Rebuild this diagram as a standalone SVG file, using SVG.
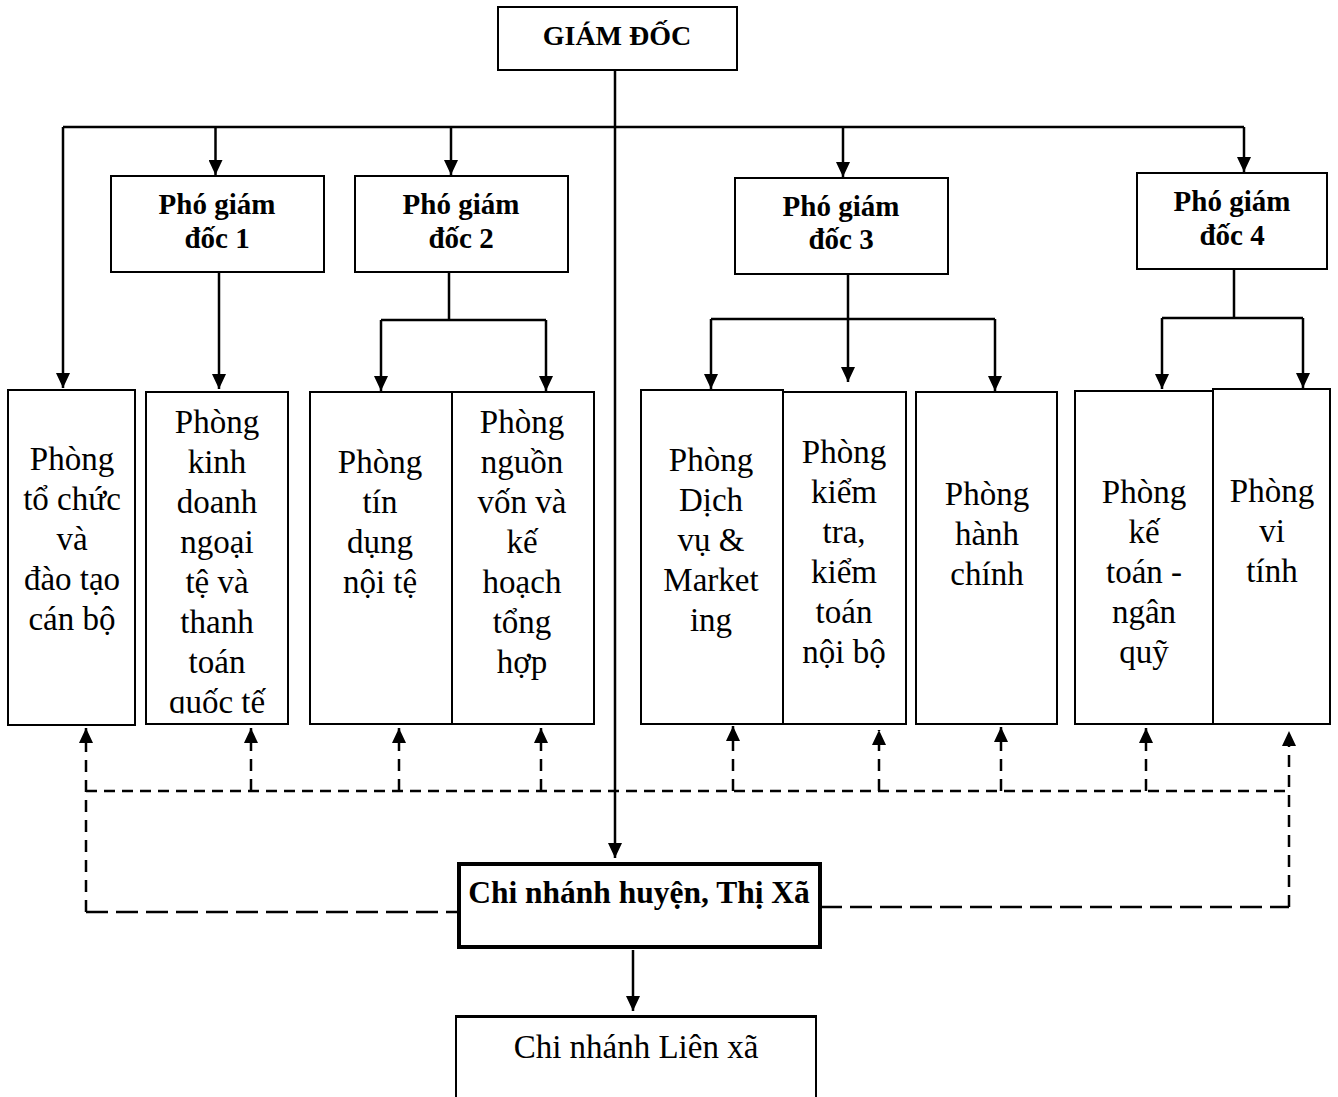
<svg xmlns="http://www.w3.org/2000/svg" width="1338" height="1097" viewBox="0 0 1338 1097">
<style>
.box{fill:#fff;stroke:#000;stroke-width:2}
.thick{fill:#fff;stroke:#000;stroke-width:4}
.ln{fill:none;stroke:#000;stroke-width:2.5}
.dsh{fill:none;stroke:#000;stroke-width:2.5;stroke-dasharray:12 8}
.dshs{fill:none;stroke:#000;stroke-width:2.5;stroke-dasharray:11 7}
.dshl{fill:none;stroke:#000;stroke-width:2.5;stroke-dasharray:22 8}
.b{font-weight:bold;text-anchor:middle;fill:#000}
.t{font-size:33px;text-anchor:middle;fill:#000}
</style>
<defs>
<marker id="ah" markerUnits="userSpaceOnUse" markerWidth="16" markerHeight="14" refX="15" refY="7" orient="auto">
<path d="M0,0 L15,7 L0,14 z" fill="#000"/>
</marker>
<clipPath id="c2"><rect x="146" y="392" width="142" height="321.5"/></clipPath>
</defs>

<g id="connectors">
<path class="ln" d="M615 70 V858" marker-end="url(#ah)"/>
<path class="ln" d="M63 127 H1244"/>
<path class="ln" d="M63 127 V388" marker-end="url(#ah)"/>
<path class="ln" d="M215.5 127 V175" marker-end="url(#ah)"/>
<path class="ln" d="M451 127 V175" marker-end="url(#ah)"/>
<path class="ln" d="M843 127 V177" marker-end="url(#ah)"/>
<path class="ln" d="M1244 127 V172" marker-end="url(#ah)"/>
<path class="ln" d="M219 272 V389" marker-end="url(#ah)"/>
<path class="ln" d="M449 272 V320 M381 320 H546"/>
<path class="ln" d="M381 320 V391" marker-end="url(#ah)"/>
<path class="ln" d="M546 320 V391" marker-end="url(#ah)"/>
<path class="ln" d="M711 319 H995"/>
<path class="ln" d="M848 274 V382" marker-end="url(#ah)"/>
<path class="ln" d="M711 319 V389" marker-end="url(#ah)"/>
<path class="ln" d="M995 319 V391" marker-end="url(#ah)"/>
<path class="ln" d="M1234 269 V318 M1162 318 H1303"/>
<path class="ln" d="M1162 318 V389" marker-end="url(#ah)"/>
<path class="ln" d="M1303 318 V388" marker-end="url(#ah)"/>
<path class="ln" d="M633 950 V1011" marker-end="url(#ah)"/>
<path class="dshs" d="M86 791 H1289"/>
<path class="dsh" d="M251 791 V728" marker-end="url(#ah)"/>
<path class="dsh" d="M399 791 V728" marker-end="url(#ah)"/>
<path class="dsh" d="M541 791 V728" marker-end="url(#ah)"/>
<path class="dsh" d="M733 791 V726" marker-end="url(#ah)"/>
<path class="dsh" d="M879 791 V730" marker-end="url(#ah)"/>
<path class="dsh" d="M1001 791 V727" marker-end="url(#ah)"/>
<path class="dsh" d="M1146 791 V728" marker-end="url(#ah)"/>
<path class="dsh" d="M86 912 V728" marker-end="url(#ah)"/>
<path class="dsh" d="M1289 907 V731" marker-end="url(#ah)"/>
<path class="dshl" d="M86 912 H458"/>
<path class="dshl" d="M820 907 H1289"/>
</g>

<g font-family="Liberation Serif, DejaVu Serif, serif">
<g id="giamdoc">
<rect class="box" x="498" y="7" width="239" height="63"/>
<text class="b" x="617" y="45" font-size="28">GIÁM ĐỐC</text>
</g>

<g id="pgd1">
<rect class="box" x="111" y="176" width="213" height="96"/>
<text class="b" x="217" y="214" font-size="29">Phó giám</text>
<text class="b" x="217" y="248" font-size="29">đốc 1</text>
</g>
<g id="pgd2">
<rect class="box" x="355" y="176" width="213" height="96"/>
<text class="b" x="461" y="214" font-size="29">Phó giám</text>
<text class="b" x="461" y="248" font-size="29">đốc 2</text>
</g>
<g id="pgd3">
<rect class="box" x="735" y="178" width="213" height="96"/>
<text class="b" x="841" y="216" font-size="29">Phó giám</text>
<text class="b" x="841" y="249" font-size="29">đốc 3</text>
</g>
<g id="pgd4">
<rect class="box" x="1137" y="173" width="190" height="96"/>
<text class="b" x="1232" y="211" font-size="29">Phó giám</text>
<text class="b" x="1232" y="245" font-size="29">đốc 4</text>
</g>

<g id="p-tochuc">
<rect class="box" x="8" y="390" width="127" height="335"/>
<text class="t"><tspan x="72" y="470">Phòng</tspan><tspan x="72" y="510">tổ chức</tspan><tspan x="72" y="550">và</tspan><tspan x="72" y="590">đào tạo</tspan><tspan x="72" y="630">cán bộ</tspan></text>
</g>
<g id="p-kinhdoanh">
<rect class="box" x="146" y="392" width="142" height="332"/>
<text class="t" clip-path="url(#c2)"><tspan x="217" y="433">Phòng</tspan><tspan x="217" y="473">kinh</tspan><tspan x="217" y="513">doanh</tspan><tspan x="217" y="553">ngoại</tspan><tspan x="217" y="593">tệ và</tspan><tspan x="217" y="633">thanh</tspan><tspan x="217" y="673">toán</tspan><tspan x="217" y="713">quốc tế</tspan></text>
</g>
<g id="p-tindung">
<rect class="box" x="310" y="392" width="142" height="332"/>
<text class="t"><tspan x="380" y="473">Phòng</tspan><tspan x="380" y="513">tín</tspan><tspan x="380" y="553">dụng</tspan><tspan x="380" y="593">nội tệ</tspan></text>
</g>
<g id="p-nguonvon">
<rect class="box" x="452" y="392" width="142" height="332"/>
<text class="t"><tspan x="522" y="433">Phòng</tspan><tspan x="522" y="473">nguồn</tspan><tspan x="522" y="513">vốn và</tspan><tspan x="522" y="553">kế</tspan><tspan x="522" y="593">hoạch</tspan><tspan x="522" y="633">tổng</tspan><tspan x="522" y="673">hợp</tspan></text>
</g>
<g id="p-dichvu">
<rect class="box" x="641" y="390" width="142" height="334"/>
<text class="t"><tspan x="711" y="471">Phòng</tspan><tspan x="711" y="511">Dịch</tspan><tspan x="711" y="551">vụ &amp;</tspan><tspan x="711" y="591">Market</tspan><tspan x="711" y="631">ing</tspan></text>
</g>
<g id="p-kiemtra">
<rect class="box" x="783" y="392" width="123" height="332"/>
<text class="t"><tspan x="844" y="463">Phòng</tspan><tspan x="844" y="503">kiểm</tspan><tspan x="844" y="543">tra,</tspan><tspan x="844" y="583">kiểm</tspan><tspan x="844" y="623">toán</tspan><tspan x="844" y="663">nội bộ</tspan></text>
</g>
<g id="p-hanhchinh">
<rect class="box" x="916" y="392" width="141" height="332"/>
<text class="t"><tspan x="987" y="505">Phòng</tspan><tspan x="987" y="545">hành</tspan><tspan x="987" y="585">chính</tspan></text>
</g>
<g id="p-ketoan">
<rect class="box" x="1075" y="391" width="138" height="333"/>
<text class="t"><tspan x="1144" y="503">Phòng</tspan><tspan x="1144" y="543">kế</tspan><tspan x="1144" y="583">toán -</tspan><tspan x="1144" y="623">ngân</tspan><tspan x="1144" y="663">quỹ</tspan></text>
</g>
<g id="p-vitinh">
<rect class="box" x="1213" y="389" width="117" height="335"/>
<text class="t"><tspan x="1272" y="502">Phòng</tspan><tspan x="1272" y="542">vi</tspan><tspan x="1272" y="582">tính</tspan></text>
</g>

<g id="chinhanh-huyen">
<rect class="thick" x="459" y="864" width="361" height="83"/>
<text class="b" x="639" y="903" font-size="31.5">Chi nhánh huyện, Thị Xã</text>
</g>
<g id="chinhanh-lienxa">
<path d="M456 1100 V1016 H816 V1100" fill="#fff" stroke="#000" stroke-width="2"/>
<path d="M456 1016.5 H816" stroke="#000" stroke-width="3"/>
<text class="t" x="636" y="1058" font-size="36">Chi nhánh Liên xã</text>
</g>
</g>
</svg>
